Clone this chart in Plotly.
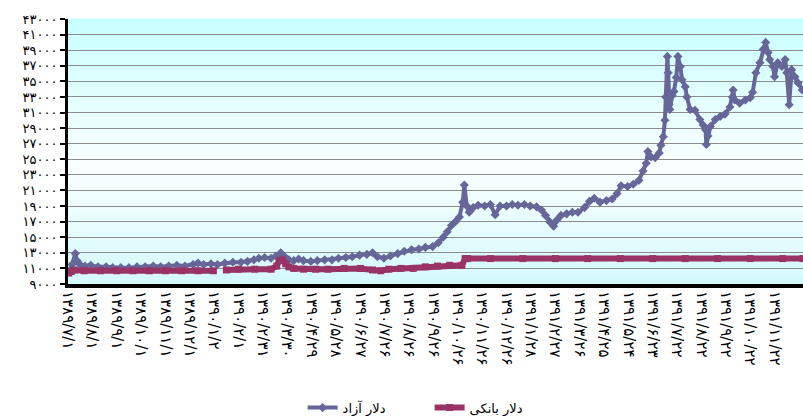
import plotly.graph_objects as go

# ---- data (days counted from 1389/7/1) ----
free_days = [1, 5, 9, 11, 15, 21, 28, 37, 47, 55, 65, 75, 85, 95, 105, 114, 124, 134, 144, 154,
             160, 167, 176, 184, 193, 203, 213, 221, 229, 235, 242, 250, 256, 262, 267, 272, 278, 284, 290, 299,
             307, 316, 325, 333, 342, 350, 359, 368, 375, 381, 389, 397, 406, 414, 423, 432, 440, 449, 456, 462,
             467, 472, 477, 482, 486, 488, 491, 494, 499, 505, 513, 520, 526, 532, 540, 547, 554, 562, 569, 577,
             583, 588, 593, 598, 602, 607, 614, 621, 628, 636, 642, 648, 655, 663, 670, 676, 681, 689, 696, 703,
             708, 712, 714, 718, 723, 728, 730, 733, 735, 736, 738, 739, 740, 741, 744, 746, 749, 751, 754, 756,
             760, 762, 766, 772, 778, 782, 785, 786, 788, 791, 797, 803, 809, 815, 818, 819, 821, 827, 834, 840,
             843, 847, 852, 856, 859, 862, 864, 868, 870, 874, 879, 883, 885, 888, 891, 895, 899, 904]
free_rate = [10600, 11500, 12900, 12000, 11500, 11300, 11400, 11200, 11200, 11100, 11100, 11100, 11200, 11200, 11300, 11200, 11300, 11400, 11300, 11500,
             11700, 11500, 11600, 11500, 11700, 11800, 11800, 11900, 12100, 12300, 12400, 12300, 12600, 13000, 12500, 12100, 12000, 12200, 12000, 11900,
             12000, 12100, 12100, 12300, 12400, 12500, 12700, 12800, 13000, 12500, 12300, 12600, 12900, 13200, 13400, 13500, 13700, 13800, 14300, 15000,
             15700, 16500, 17000, 17600, 19500, 21700, 19000, 18200, 18800, 19100, 19000, 19200, 17900, 19000, 19000, 19200, 19100, 19200, 19000, 18900,
             18500, 17800, 17000, 16400, 17200, 17800, 18000, 18200, 18200, 18800, 19600, 20000, 19500, 19700, 19900, 20600, 21600, 21500, 21800, 22300,
             23500, 24500, 26000, 25300, 25200, 25800, 26800, 27900, 30000, 33000, 38200, 36100, 32000, 31400, 33200, 33700, 35500, 38200, 36900, 35200,
             34300, 33000, 31400, 31300, 30100, 29400, 28800, 26900, 28000, 29200, 30100, 30500, 30800, 31700, 33000, 33900, 32600, 32200, 32600, 32900,
             33600, 36100, 37400, 39100, 40000, 38700, 37800, 36900, 35600, 37400, 36900, 37800, 36100, 32000, 36500, 35600, 34800, 33900]

bank_days = [1, 4, 8, 20, 40, 60, 80, 100, 120, 140, 160, 179, 187, 195, 210, 230, 250, 257, 260, 264,
             268, 272, 278, 290, 305, 320, 340, 360, 375, 385, 395, 410, 425, 440, 455, 470, 485, 489, 492, 520,
             560, 600, 640, 680, 720, 760, 800, 840, 880, 905]
bank_rate = [10400, 10600, 10800, 10700, 10700, 10700, 10700, 10700, 10700, 10700, 10700, 10700, None, 10800, 10900, 10900, 10900, 11300, 12000, 12100,
             11600, 11200, 11000, 10900, 10900, 10900, 11000, 11000, 10800, 10700, 10900, 11000, 11000, 11200, 11300, 11400, 11400, 12260, 12260, 12260,
             12260, 12260, 12260, 12260, 12260, 12260, 12260, 12260, 12260, 12260]

x_labels = ["۱۳۸۹/۷/۱", "۱۳۸۹/۸/۱", "۱۳۸۹/۹/۱", "۱۳۸۹/۱۰/۱", "۱۳۸۹/۱۱/۱", "۱۳۸۹/۱۲/۱",
            "۱۳۹۰/۱/۲", "۱۳۹۰/۲/۱", "۱۳۹۰/۲/۳۱", "۱۳۹۰/۳/۳۰", "۱۳۹۰/۴/۲۹", "۱۳۹۰/۵/۲۸",
            "۱۳۹۰/۶/۲۷", "۱۳۹۰/۷/۲۶", "۱۳۹۰/۸/۲۶", "۱۳۹۰/۹/۲۶", "۱۳۹۰/۱۰/۲۶", "۱۳۹۰/۱۱/۲۶",
            "۱۳۹۰/۱۲/۲۶", "۱۳۹۱/۱/۲۸", "۱۳۹۱/۲/۲۷", "۱۳۹۱/۳/۲۶", "۱۳۹۱/۴/۲۵", "۱۳۹۱/۵/۲۴",
            "۱۳۹۱/۶/۲۳", "۱۳۹۱/۷/۲۲", "۱۳۹۱/۸/۲۲", "۱۳۹۱/۹/۲۲", "۱۳۹۱/۱۰/۲۲", "۱۳۹۱/۱۱/۲۲",
            "۱۳۹۱/۱۲/۲۲"]
x_label_days = [30 * i for i in range(len(x_labels))]

y_vals = list(range(9000, 43001, 2000))
y_labels = ["۹۰۰۰", "۱۱۰۰۰", "۱۳۰۰۰", "۱۵۰۰۰", "۱۷۰۰۰", "۱۹۰۰۰", "۲۱۰۰۰", "۲۳۰۰۰", "۲۵۰۰۰",
            "۲۷۰۰۰", "۲۹۰۰۰", "۳۱۰۰۰", "۳۳۰۰۰", "۳۵۰۰۰", "۳۷۰۰۰", "۳۹۰۰۰", "۴۱۰۰۰", "۴۳۰۰۰"]

name_free = "دلار آزاد"
name_bank = "دلار بانکی"

FONT = "DejaVu Sans"

fig = go.Figure()
fig.add_trace(go.Scatter(
    x=free_days, y=free_rate, name=name_free, mode="lines+markers",
    line=dict(color="#666699", width=4),
    marker=dict(symbol="diamond", size=7, color="#666699"),
))
fig.add_trace(go.Scatter(
    x=bank_days, y=bank_rate, name=name_bank, mode="lines+markers",
    line=dict(color="#993366", width=6),
    marker=dict(symbol="square", size=7, color="#993366"),
    connectgaps=False,
))

# gradient plot background (cyan -> white -> cyan)
def mix(a, b, t):
    return tuple(round(a[i] + (b[i] - a[i]) * t) for i in range(3))

c_bot = (212, 250, 252)
c_mid = (250, 255, 255)
c_top = (200, 255, 255)
n = 60
shapes = []
for i in range(n):
    t = (i + 0.5) / n
    if t < 0.45:
        c = mix(c_bot, c_mid, t / 0.45)
    else:
        c = mix(c_mid, c_top, (t - 0.45) / 0.55)
    shapes.append(dict(type="rect", xref="paper", yref="paper",
                       x0=0, x1=1, y0=i / n, y1=(i + 1) / n + 0.002,
                       fillcolor="rgb(%d,%d,%d)" % c, line=dict(width=0), layer="below"))

fig.update_layout(
    width=803, height=416,
    margin=dict(l=68, r=0, t=19, b=132, autoexpand=False),
    paper_bgcolor="white",
    plot_bgcolor="white",
    font=dict(family=FONT, size=13, color="black"),
    shapes=shapes,
    showlegend=True,
    legend=dict(orientation="h", x=0.492, xanchor="center", y=-0.41, yanchor="top",
                font=dict(family=FONT, size=13, color="black"),
                entrywidth=82, entrywidthmode="pixels", bgcolor="rgba(0,0,0,0)"),
    xaxis=dict(
        range=[0, 905], tickmode="array", tickvals=x_label_days, ticktext=x_labels,
        tickangle=90, showgrid=False, zeroline=False, automargin=False,
        showline=True, linecolor="black", linewidth=4,
        ticks="", tickfont=dict(family=FONT, size=15, color="black"),
    ),
    yaxis=dict(
        range=[9000, 43000], tickmode="array", tickvals=y_vals, ticktext=y_labels,
        showgrid=True, gridcolor="#8c8c8c", gridwidth=1, zeroline=False, automargin=False,
        showline=True, linecolor="black", linewidth=3,
        ticks="outside", ticklen=5, tickwidth=2, tickcolor="black",
        tickfont=dict(family=FONT, size=13, color="black"),
    ),
)

fig.write_html("out.html", config={"displayModeBar": False},
               post_script="document.body.style.margin='0px';")
